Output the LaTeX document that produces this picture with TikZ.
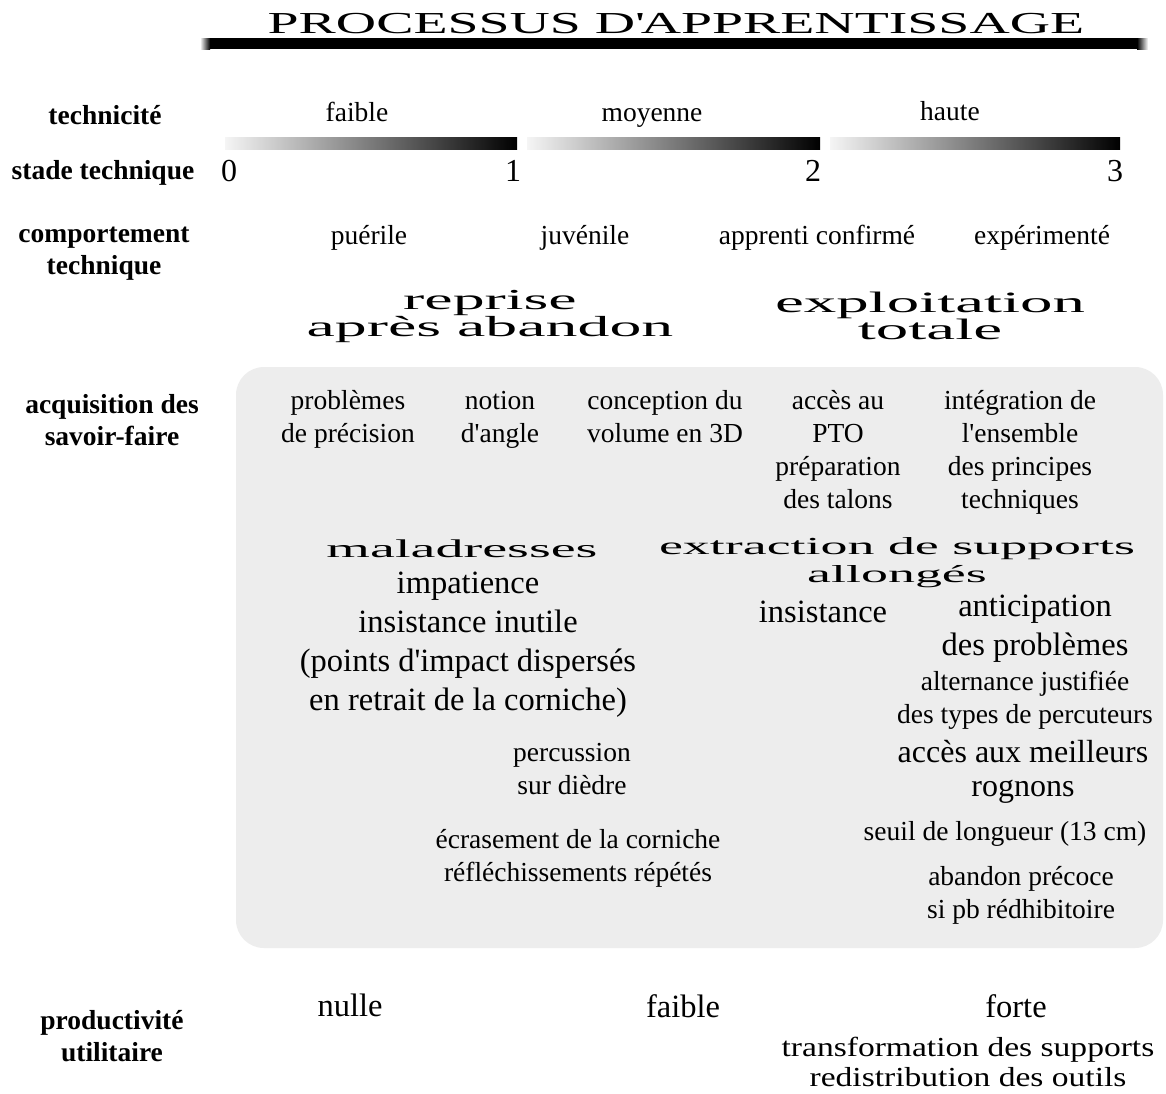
\documentclass[tikz,border=0pt]{standalone}
\usepackage{fontspec}
\setmainfont{Liberation Serif}
\newfontfamily\widefont[FakeStretch=2.2]{Liberation Serif}
\newfontfamily\titlefont[FakeStretch=1.83]{Liberation Serif}
\newfontfamily\semiwide[FakeStretch=1.22]{Liberation Serif}
\newcommand\fsz[2]{\fontsize{#1}{#2}\selectfont}
\newcommand\apo{\textquotesingle}
\definecolor{boxgrey}{HTML}{EDEDED}
\tikzset{
  txt/.style={inner sep=0pt, align=center, font=\fsz{27.5}{33}},
  bigtxt/.style={inner sep=0pt, align=center, font=\fsz{32.5}{39}},
  lab/.style={inner sep=0pt, align=center, font=\bfseries\fsz{27.5}{32}},
  widetxt/.style={inner sep=0pt, align=center, font=\widefont\fsz{27.5}{27}},
  num/.style={inner sep=0pt, font=\fsz{32}{32}},
  gbar/.style={left color=black!4, right color=black},
}
\begin{document}
\begin{tikzpicture}[x=1pt,y=-1pt]
\useasboundingbox (0,0) rectangle (1166,1093);
\fill[white] (0,0) rectangle (1166,1093);

% title
\node[inner sep=0pt, font=\titlefont\fsz{30.5}{30}] (title) at (676,24) {PROCESSUS D\apo APPRENTISSAGE};
\fill[black] (210,38) rectangle (1137,49);
\shade[left color=white, right color=black] (200,38) rectangle (210,49);
\shade[left color=black, right color=white] (1137,38) rectangle (1148,49);

% left labels
\node[lab] (l1) at (105,115) {technicité};
\node[lab] (l2) at (103,173) {stade technique};
\node[lab] (l3) at (104,254) {comportement\\technique};
\node[lab] (l4) at (112,420) {acquisition des\\savoir-faire};
\node[lab] (l5) at (112,1036) {productivité\\utilitaire};

% technicite
\node[txt] (t1) at (357,112) {faible};
\node[txt] (t2) at (652,118) {moyenne};
\node[txt] (t3) at (950,111) {haute};

% gradient bars
\shade[gbar] (225,137) rectangle (517,149);
\shade[gbar] (527,137) rectangle (820,149);
\shade[gbar] (830,137) rectangle (1120,149);

% stades
\node[num] (n0) at (229,171) {0};
\node[num] (n1) at (513,171) {1};
\node[num] (n2) at (813,171) {2};
\node[num] (n3) at (1115,171) {3};

% comportement
\node[txt] (c1) at (369,238) {puérile};
\node[txt] (c2) at (585,238) {juvénile};
\node[txt] (c3) at (817,238) {apprenti confirmé};
\node[txt] (c4) at (1042,238) {expérimenté};

% wide headings
\node[widetxt, font=\widefont\fsz{29}{27}] (w1) at (490,316) {reprise\\après abandon};
\node[widetxt, font=\widefont\fsz{29.5}{27}] (w2) at (930,316) {exploitation\\totale};

% grey box
\fill[boxgrey, rounded corners=28pt] (236,367) rectangle (1163,948);

% savoir-faire
\node[txt] (a1) at (348,419) {problèmes\\de précision};
\node[txt] (a2) at (500,420) {notion\\d\apo angle};
\node[txt] (a3) at (665,417) {conception du\\volume en 3D};
\node[txt] (a4) at (838,449.5) {accès au\\PTO\\préparation\\des talons};
\node[txt] (a5) at (1020,452.5) {intégration de\\l\apo ensemble\\des principes\\techniques};

\node[widetxt, font=\widefont\fsz{25.5}{27}] (m1) at (462,549) {maladresses};
\node[bigtxt] (m2) at (468,645) {impatience\\insistance inutile\\(points d\apo impact dispersés\\en retrait de la corniche)};

\node[widetxt, font=\widefont\fsz{24.5}{28}] (e1) at (897,563) {extraction de supports\\allongés};
\node[bigtxt] (e2) at (823,612) {insistance};
\node[bigtxt] (e3) at (1035,629) {anticipation\\des problèmes};
\node[txt] (e4) at (1025,700.5) {alternance justifiée\\des types de percuteurs};
\node[bigtxt, font=\fsz{32}{34}] (e5) at (1023,772) {accès aux meilleurs\\rognons};

\node[txt] (p1) at (572,769.5) {percussion\\sur dièdre};
\node[txt] (p2) at (578,858) {écrasement de la corniche\\réfléchissements répétés};
\node[txt] (s1) at (1005,834) {seuil de longueur (13 cm)};
\node[txt] (s2) at (1021,895.5) {abandon précoce\\si pb rédhibitoire};

% productivite
\node[bigtxt] (q1) at (350,1005) {nulle};
\node[bigtxt] (q2) at (683,1006) {faible};
\node[bigtxt] (q3) at (1016,1006) {forte};
\node[inner sep=0pt, align=center, font=\semiwide\fsz{27.5}{30}] (q4) at (968,1062) {transformation des supports\\redistribution des outils};
\end{tikzpicture}
\end{document}
